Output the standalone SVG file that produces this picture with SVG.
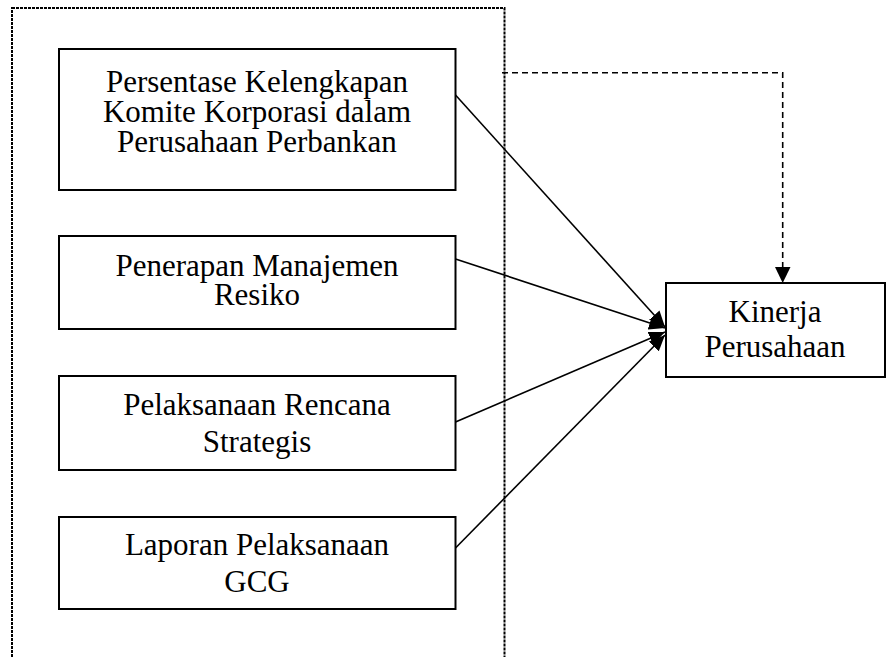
<svg xmlns="http://www.w3.org/2000/svg" width="887" height="657" viewBox="0 0 887 657">
<style>
.box{fill:#fff;stroke:#000;stroke-width:2}
.t{font-family:"Liberation Serif","Times New Roman",serif;font-size:31px;fill:#000;text-anchor:middle}
.ln{stroke:#000;stroke-width:1.6;fill:none}
.dot{stroke:#000;stroke-width:2;fill:none;stroke-dasharray:3 1}
.dash{stroke:#000;stroke-width:1.6;fill:none;stroke-dasharray:6 4}
</style>
<defs>
<marker id="ah" markerUnits="userSpaceOnUse" markerWidth="18" markerHeight="14" refX="16" refY="7" orient="auto">
<path d="M0,0 L16,7 L0,14 Z" fill="#000"/>
</marker>
</defs>
<rect id="frame" class="dot" x="12" y="8" width="492.5" height="660"/>
<g id="n1"><rect class="box" x="59" y="49" width="396.5" height="141"/>
<text class="t" x="257" y="91.5">Persentase Kelengkapan</text>
<text class="t" x="257" y="121.5">Komite Korporasi dalam</text>
<text class="t" x="257" y="151.5">Perusahaan Perbankan</text></g>
<g id="n2"><rect class="box" x="59" y="236" width="396.5" height="93"/>
<text class="t" x="257" y="276">Penerapan Manajemen</text>
<text class="t" x="257" y="305">Resiko</text></g>
<g id="n3"><rect class="box" x="59" y="376" width="396.5" height="94"/>
<text class="t" x="257" y="415">Pelaksanaan Rencana</text>
<text class="t" x="257" y="451.5">Strategis</text></g>
<g id="n4"><rect class="box" x="59" y="517" width="396.5" height="92"/>
<text class="t" x="257" y="555">Laporan Pelaksanaan</text>
<text class="t" x="257" y="591.5">GCG</text></g>
<g id="n5"><rect class="box" x="666" y="283" width="219" height="94"/>
<text class="t" x="775" y="322">Kinerja</text>
<text class="t" x="775" y="357">Perusahaan</text></g>
<g id="connectors">
<line class="ln" x1="455.5" y1="95" x2="665" y2="327" marker-end="url(#ah)"/>
<line class="ln" x1="455.5" y1="259" x2="665" y2="328" marker-end="url(#ah)"/>
<line class="ln" x1="455.5" y1="422" x2="665" y2="332" marker-end="url(#ah)"/>
<line class="ln" x1="455.5" y1="548" x2="665" y2="335" marker-end="url(#ah)"/>
<polyline class="dash" points="502,72.7 782.7,72.7 782.7,268"/>
<polygon points="775,267 790.5,267 782.7,283" fill="#000"/>
</g>
</svg>
